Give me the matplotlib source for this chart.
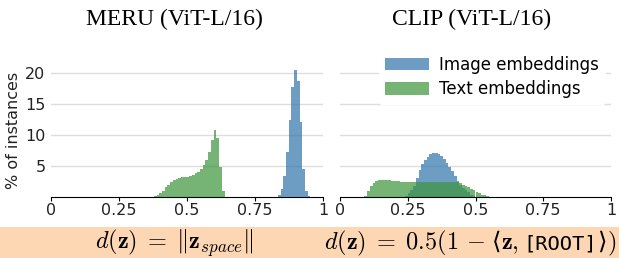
import matplotlib.pyplot as plt
from matplotlib.patches import Rectangle

# histogram values (% of instances), bin width 0.01
bin_w = 0.01

meru_img_start = 0.834
meru_img = [0.27, 1.3, 3.4, 7.3, 12.5, 17.8, 20.5, 18.8, 12.2, 4.6, 0.9, 0.2]

meru_txt_start = 0.378
meru_txt = [0.16, 0.3, 0.6, 1.0, 1.6, 2.0, 2.4, 2.7, 2.9, 3.1, 3.2, 3.2, 3.3,
            3.4, 3.5, 3.8, 4.0, 4.5, 5.1, 6.0, 7.3, 9.2, 10.8, 9.6, 4.8, 1.0]

clip_img_start = 0.24
clip_img = [0.2, 0.6, 1.1, 1.7, 3.0, 4.4, 5.3, 6.0, 6.5, 6.9, 7.05, 7.05, 6.9,
            6.6, 6.2, 5.5, 4.9, 4.2, 3.4, 2.6, 1.9, 1.5, 1.1, 0.75, 0.4, 0.16]

clip_txt_start = 0.09
clip_txt = [0.2, 0.9, 1.7, 2.3, 2.6, 2.75, 2.75, 2.75, 2.75, 2.75, 2.6, 2.6, 2.6,
            2.5, 2.45, 2.45, 2.45, 2.45, 2.45, 2.45, 2.45, 2.45, 2.45, 2.45, 2.45,
            2.45, 2.45, 2.45, 2.45, 2.45, 2.45, 2.45, 2.45, 2.4,
            2.35, 2.2, 2.0, 1.8, 1.6, 1.35, 1.1, 0.85, 0.6, 0.4, 0.25, 0.15, 0.08, 0.05]

titles = ['MERU (ViT-L/16)', 'CLIP (ViT-L/16)']
# formula pieces: (text, kind)
formula_left = [(r'$d(\mathbf{z})\;=\;\Vert\mathbf{z}_{space}\Vert$', 'math')]
formula_right = [(r'$d(\mathbf{z})\;=\;0.5(1\,-$', 'math'),
                 ('\u27e8', 'plain'),
                 (r'$\mathbf{z},$', 'math'),
                 ('[ROOT]', 'mono'),
                 ('\u27e9', 'plain'),
                 (r'$)$', 'math')]
gaps_right = [7, 0, 4, 1, 0, 0]
xticks = [0, 0.25, 0.5, 0.75, 1]
xticklabels = ['0', '0.25', '0.5', '0.75', '1']
yticks = [5, 10, 15, 20]

blue = '#3074ab'
green = '#3b943b'

plt.rcParams['mathtext.fontset'] = 'cm'

fig = plt.figure(figsize=(6.19, 2.58), dpi=100)
ax1 = fig.add_axes([51 / 619, 1 - 197 / 258, 272 / 619, 133 / 258])
ax2 = fig.add_axes([340 / 619, 1 - 197 / 258, 271 / 619, 133 / 258])


def bars(ax, start, vals, color, label):
    xs = [start + i * bin_w for i in range(len(vals))]
    ax.bar(xs, vals, width=bin_w, align='edge', color=color, alpha=0.7,
           linewidth=0, label=label, zorder=2)


bars(ax1, meru_img_start, meru_img, blue, 'Image embeddings')
bars(ax1, meru_txt_start, meru_txt, green, 'Text embeddings')
bars(ax2, clip_img_start, clip_img, blue, 'Image embeddings')
bars(ax2, clip_txt_start, clip_txt, green, 'Text embeddings')

for ax in (ax1, ax2):
    ax.set_xlim(0, 1)
    ax.set_ylim(0, 21.5)
    ax.set_xticks(xticks)
    ax.set_xticklabels(xticklabels)
    ax.set_yticks(yticks)
    ax.grid(axis='y', color='#dddddd', linewidth=1, zorder=0)
    ax.set_axisbelow(True)
    for s in ['top', 'right', 'left']:
        ax.spines[s].set_visible(False)
    ax.spines['bottom'].set_color('black')
    ax.tick_params(axis='x', length=3, labelsize=11.5, pad=1, colors='#222222')
    ax.tick_params(axis='y', length=0, labelsize=11.5, pad=4, colors='#222222')
    ax.tick_params(axis='x', color='black')

ax2.tick_params(axis='y', labelleft=False)
ax1.set_ylabel('% of instances', fontsize=11.5, color='#222222', labelpad=3)

ax2.legend(loc='upper right', bbox_to_anchor=(1.0, 1.15), fontsize=12,
           frameon=True, facecolor='white', edgecolor='none', framealpha=1,
           handlelength=2.6, handleheight=0.75, labelspacing=0.4,
           handletextpad=0.65, borderaxespad=0.3)

fig.text(174 / 619, 1 - 19 / 258, titles[0], ha='center', va='center',
         fontsize=17, family='Liberation Serif')
fig.text(472 / 619, 1 - 19 / 258, titles[1], ha='center', va='center',
         fontsize=17, family='Liberation Serif')

fig.patches.append(Rectangle((0, 0), 1, 31 / 258, transform=fig.transFigure,
                             facecolor='#fdd7b4', edgecolor='none', zorder=0))


def put_formula(pieces, xc, yc, size, gaps=None):
    # place pieces side by side, centred at (xc, yc) in pixels
    if gaps is None:
        gaps = [0] * len(pieces)
    r = fig.canvas.get_renderer()
    texts = []
    for s, kind in pieces:
        if kind == 'mono':
            t = fig.text(0, 0, s, fontsize=size * 0.84, family='DejaVu Sans Mono',
                         ha='left', va='baseline', transform=None)
        elif kind == 'plain':
            t = fig.text(0, 0, s, fontsize=size, family='DejaVu Serif',
                         ha='left', va='baseline', transform=None)
        else:
            t = fig.text(0, 0, s, fontsize=size, ha='left', va='baseline',
                         transform=None)
        texts.append(t)
    widths = [t.get_window_extent(r).width + g for t, g in zip(texts, gaps)]
    x = xc - sum(widths) / 2
    for t, w in zip(texts, widths):
        t.set_position((x, yc))
        x += w


put_formula(formula_left, 174, 258 - 249, 17.5)
put_formula(formula_right, 470, 258 - 249, 17.5, gaps_right)

fig.savefig('out.png', dpi=100)
